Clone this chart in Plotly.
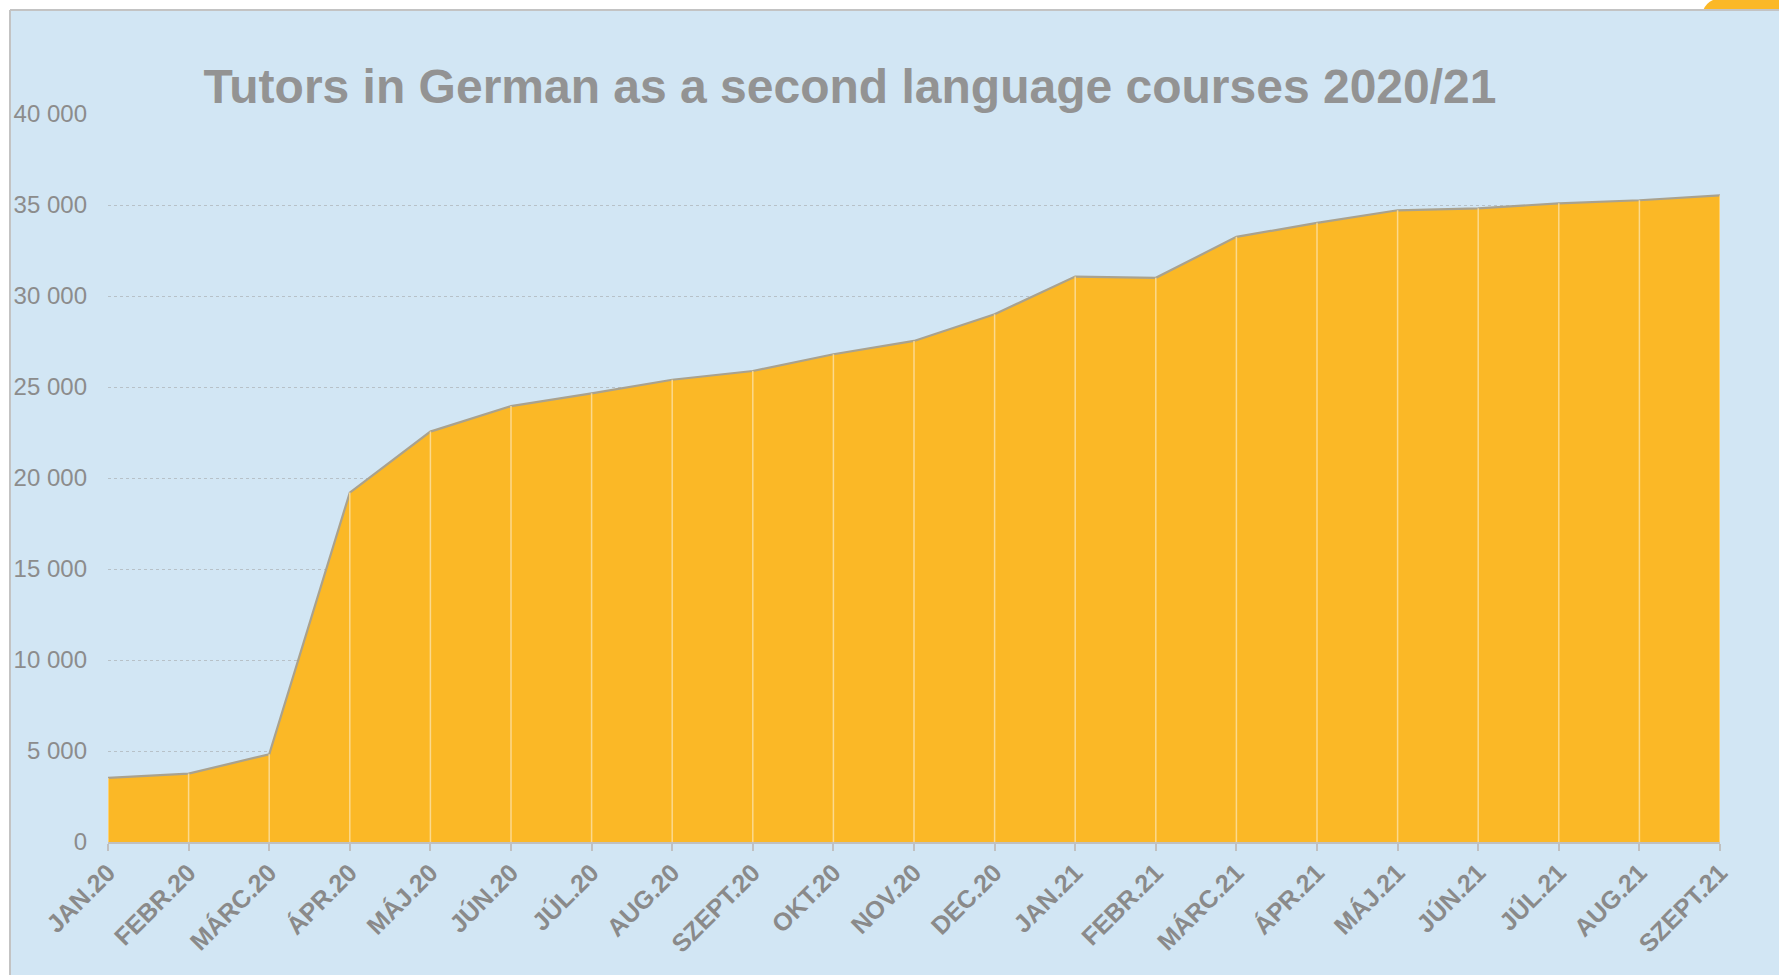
import plotly.graph_objects as go

months = ["JAN.20", "FEBR.20", "MÁRC.20", "ÁPR.20", "MÁJ.20", "JÚN.20", "JÚL.20",
          "AUG.20", "SZEPT.20", "OKT.20", "NOV.20", "DEC.20", "JAN.21", "FEBR.21",
          "MÁRC.21", "ÁPR.21", "MÁJ.21", "JÚN.21", "JÚL.21", "AUG.21", "SZEPT.21"]
tutors = [3520, 3760, 4820, 19200, 22550, 23950, 24650, 25400, 25880, 26800, 27530,
          29000, 31070, 31000, 33250, 34020, 34710, 34820, 35090, 35260, 35530]
y_ticks = [0, 5000, 10000, 15000, 20000, 25000, 30000, 35000, 40000]
y_tick_text = ["0", "5 000", "10 000", "15 000", "20 000", "25 000", "30 000", "35 000", "40 000"]
title_text = "Tutors in German as a second language courses 2020/21"

W, H = 1779, 975
L, R, T, B = 108, 1720, 114, 842  # plot area in pixels

BG = "#D2E6F4"
FILL = "#FBB826"
GRAY = "#8f8f8f"

xs = list(range(len(months)))

# vertical separators inside the area (from data)
vx, vy = [], []
for i, v in zip(xs, tutors):
    vx += [i, i, None]
    vy += [0, v, None]

fig = go.Figure()
fig.add_trace(go.Scatter(x=xs, y=tutors, mode="lines", fill="tozeroy",
                         fillcolor=FILL, line=dict(color="#a9a28f", width=2.2),
                         hoverinfo="skip", showlegend=False))
fig.add_trace(go.Scatter(x=vx, y=vy, mode="lines",
                         line=dict(color="#fcd98c", width=1.5),
                         hoverinfo="skip", showlegend=False))


def px_x(p):
    return (p - L) / (R - L)


def px_y(p):
    return (B - p) / (B - T)


shapes = [
    # white outer strips
    dict(type="rect", xref="paper", yref="paper", x0=px_x(0), x1=px_x(W), y0=px_y(10), y1=px_y(0),
         fillcolor="white", line=dict(width=0), layer="above"),
    dict(type="rect", xref="paper", yref="paper", x0=px_x(0), x1=px_x(10), y0=px_y(H), y1=px_y(0),
         fillcolor="white", line=dict(width=0), layer="above"),
    # orange corner decoration
    dict(type="path", xref="paper", yref="paper",
         path=f"M {px_x(1703)},{px_y(10.5)} Q {px_x(1706)},{px_y(3)} {px_x(1713)},{px_y(0)} "
              f"L {px_x(W)},{px_y(0)} L {px_x(W)},{px_y(10.5)} Z",
         fillcolor="#FBB826", line=dict(width=0), layer="above"),
    # panel border
    dict(type="line", xref="paper", yref="paper", x0=px_x(10), x1=px_x(W), y0=px_y(10), y1=px_y(10),
         line=dict(color="#c3c3c3", width=2), layer="above"),
    dict(type="line", xref="paper", yref="paper", x0=px_x(10), x1=px_x(10), y0=px_y(10), y1=px_y(H),
         line=dict(color="#c3c3c3", width=2), layer="above"),
]

fig.update_layout(
    width=W, height=H,
    margin=dict(l=L, r=W - R, t=T, b=H - B, autoexpand=False),
    paper_bgcolor=BG, plot_bgcolor=BG,
    font=dict(family="Liberation Sans, Arial, sans-serif", color=GRAY),
    title=dict(text=title_text, x=850 / W, xanchor="center", xref="container",
               y=1 - 86 / H, yanchor="middle", yref="container",
               font=dict(size=48, color="#939393", weight="bold")),
    shapes=shapes,
    showlegend=False,
)
fig.update_xaxes(
    range=[0, len(months) - 1], tickvals=xs, ticktext=months, tickangle=-45,
    tickfont=dict(size=25, color="#8a8a8a", weight="bold"),
    showgrid=False, zeroline=False,
    showline=True, linecolor="#c0c0c0", linewidth=2,
    ticks="outside", ticklen=7, tickcolor="#c0c0c0", tickwidth=2,
    ticklabelstandoff=-3,
)
fig.update_yaxes(
    range=[0, 40000], tickvals=y_ticks, ticktext=y_tick_text,
    tickfont=dict(size=24, color="#8c8c8c"),
    showgrid=True, gridcolor="#b7c1c8", griddash="dot", gridwidth=1,
    zeroline=False, showline=False, ticks="", ticklabelstandoff=20,
)

fig.write_html("out.html", config={"displayModeBar": False},
               post_script="document.body.style.margin='0';")
